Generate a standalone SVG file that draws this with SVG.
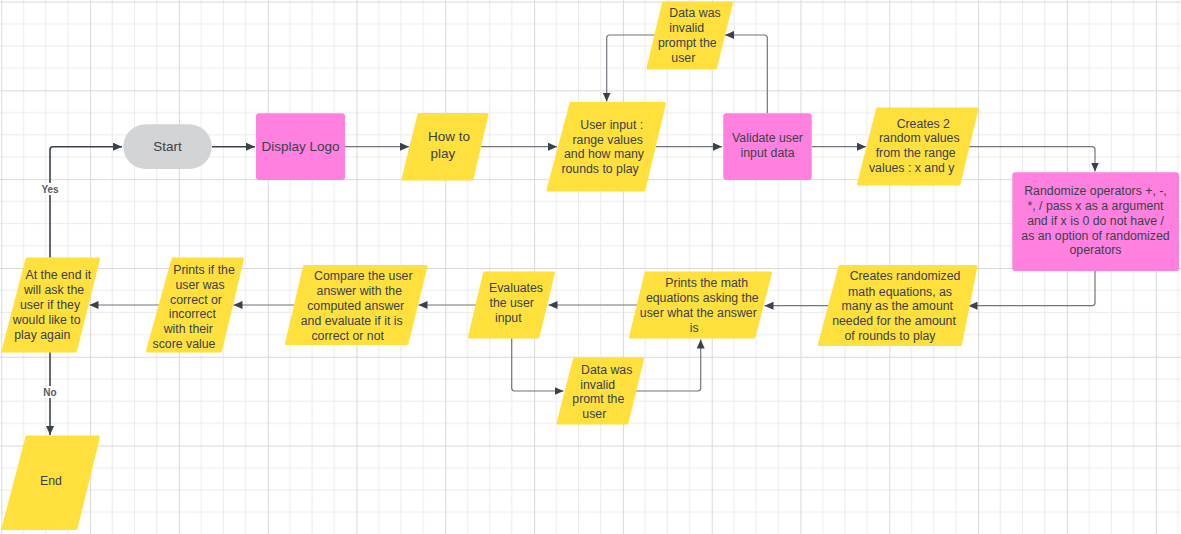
<svg xmlns="http://www.w3.org/2000/svg" width="1181" height="534" viewBox="0 0 1181 534">
<defs>
<pattern id="grid" x="1.3" y="1.6" width="88.8" height="88.8" patternUnits="userSpaceOnUse">
<path d="M22.2,0V88.8M44.4,0V88.8M66.6,0V88.8M0,22.2H88.8M0,44.4H88.8M0,66.6H88.8" stroke="#ebebeb" stroke-width="1" fill="none"/>
<path d="M0.5,0V88.8M0,0.5H88.8" stroke="#d9d9d9" stroke-width="1" fill="none"/>
</pattern>
<marker id="ah" markerWidth="10" markerHeight="8" refX="9" refY="4" orient="auto" markerUnits="userSpaceOnUse">
<path d="M0,0L9,4L0,8Z" fill="#3a414a"/>
</marker>
<style>
.para{fill:#ffe03d;stroke:#ffe03d;stroke-width:3;stroke-linejoin:round}
.pink{fill:#ff80df}
.t{font-family:"Liberation Sans",Arial,sans-serif;font-size:12.3px;fill:#3a414a;text-anchor:middle}
.tl{font-family:"Liberation Sans",Arial,sans-serif;font-size:13.5px;fill:#3a414a;text-anchor:middle}
.c{fill:none;stroke:#70757d;stroke-width:1.2}
.cd{fill:none;stroke:#3a414a;stroke-width:1.6}
.lbl{font-family:"Liberation Sans",Arial,sans-serif;font-size:10px;font-weight:bold;fill:#555b63;text-anchor:middle}
</style>
</defs>
<rect width="1181" height="534" fill="#ffffff"/>
<rect width="1181" height="534" fill="url(#grid)"/>

<g id="connectors">
<path class="cd" d="M50,257.7V149.7Q50,146.7 53,146.7H122" marker-end="url(#ah)"/>
<rect x="40" y="183" width="20" height="12" fill="#ffffff"/>
<text class="lbl" x="50" y="192.5">Yes</text>
<path class="cd" d="M212,146.7H255" marker-end="url(#ah)"/>
<path class="c" d="M345,146.7H409" marker-end="url(#ah)"/>
<path class="c" d="M480.5,146.7H557" marker-end="url(#ah)"/>
<path class="c" d="M656,146.7H722" marker-end="url(#ah)"/>
<path class="c" d="M767.3,113V38Q767.3,35 764.3,35H725" marker-end="url(#ah)"/>
<path class="c" d="M654.7,35H609.7Q606.7,35 606.7,38V101.5" marker-end="url(#ah)"/>
<path class="c" d="M812,146.7H866" marker-end="url(#ah)"/>
<path class="c" d="M969,146.7H1092Q1095,146.7 1095,149.7V171.5" marker-end="url(#ah)"/>
<path class="c" d="M1095,271V302.7Q1095,305.7 1092,305.7H968.5" marker-end="url(#ah)"/>
<path class="c" d="M829,305.7H764.5" marker-end="url(#ah)"/>
<path class="c" d="M637,305H548.5" marker-end="url(#ah)"/>
<path class="c" d="M511.7,338.3V388Q511.7,391 514.7,391H563.5" marker-end="url(#ah)"/>
<path class="c" d="M636,391H697.7Q700.7,391 700.7,388V339.5" marker-end="url(#ah)"/>
<path class="c" d="M476,305H418.5" marker-end="url(#ah)"/>
<path class="c" d="M294,305H233.5" marker-end="url(#ah)"/>
<path class="c" d="M159,305H89.5" marker-end="url(#ah)"/>
<path class="cd" d="M50,352.3V435" marker-end="url(#ah)"/>
<rect x="42" y="386" width="16" height="12" fill="#ffffff"/>
<text class="lbl" x="50" y="396">No</text>
</g>

<g id="start">
<rect x="123.3" y="124.3" width="88.4" height="44.7" rx="22.3" fill="#d3d4d6"/>
<text class="tl" x="167.5" y="150.5">Start</text>
</g>

<g id="display-logo">
<rect class="pink" x="256" y="113.3" width="89" height="66.7" rx="3"/>
<text class="tl" x="300.5" y="151">Display Logo</text>
</g>

<g id="how-to-play">
<polygon class="para" points="419,114.5 487,114.5 472,179 403,179"/>
<text class="tl" x="449" y="141">How to</text>
<text class="tl" x="443" y="158">play</text>
</g>

<g id="user-input">
<polygon class="para" points="571,103.5 664.5,103.5 644,190 548,190"/>
<text class="t" x="611.7" y="128.5">User input :</text>
<text class="t" x="607.7" y="143.5">range values</text>
<text class="t" x="604" y="158.2">and how many</text>
<text class="t" x="600" y="173.2">rounds to play</text>
</g>

<g id="validate">
<rect class="pink" x="723.3" y="113.3" width="88.4" height="66.7" rx="3"/>
<text class="t" x="767.5" y="142.2">Validate user</text>
<text class="t" x="767.5" y="157.2">input data</text>
</g>

<g id="invalid-top">
<polygon class="para" points="663.5,3 731.5,3 715.5,68 648,68"/>
<text class="t" x="695" y="17.2">Data was</text>
<text class="t" x="686.7" y="31.8">invalid</text>
<text class="t" x="687.3" y="46.8">prompt the</text>
<text class="t" x="683.3" y="61.8">user</text>
</g>

<g id="creates-values">
<polygon class="para" points="877.5,109 977,109 959,184 858.5,184"/>
<text class="t" x="923.3" y="127.8">Creates 2</text>
<text class="t" x="919.3" y="142.2">random values</text>
<text class="t" x="915.7" y="157.2">from the range</text>
<text class="t" x="911.7" y="172.2">values : x and y</text>
</g>

<g id="randomize">
<rect class="pink" x="1012.3" y="172.3" width="166.7" height="98.7" rx="3"/>
<text class="t" x="1095.5" y="195.2">Randomize operators +, -,</text>
<text class="t" x="1095.5" y="209.5">*, / pass x as a argument</text>
<text class="t" x="1095.5" y="224.5">and if x is 0 do not have /</text>
<text class="t" x="1095.5" y="239.5">as an option of randomized</text>
<text class="t" x="1095.5" y="253.8">operators</text>
</g>

<g id="creates-equations">
<polygon class="para" points="840,266.5 976,266.5 960.5,344.5 819.5,344.5"/>
<text class="t" x="905" y="280.2">Creates randomized</text>
<text class="t" x="900" y="296.2">math equations, as</text>
<text class="t" x="897.3" y="310.2">many as the amount</text>
<text class="t" x="894" y="325.2">needed for the amount</text>
<text class="t" x="890" y="340.2">of rounds to play</text>
</g>

<g id="prints-math">
<polygon class="para" points="646,273 770.5,273 754,337 630.5,337"/>
<text class="t" x="706.7" y="286.8">Prints the math</text>
<text class="t" x="702.3" y="301.8">equations asking the</text>
<text class="t" x="698.3" y="316.5">user what the answer</text>
<text class="t" x="694.3" y="331.8">is</text>
</g>

<g id="evaluates">
<polygon class="para" points="484.5,273 553.5,273 538,337 469.5,337"/>
<text class="t" x="516" y="292.2">Evaluates</text>
<text class="t" x="511.7" y="307.2">the user</text>
<text class="t" x="508.3" y="322.2">input</text>
</g>

<g id="invalid-bottom">
<polygon class="para" points="574.5,359 642.5,359 627,423 558,423"/>
<text class="t" x="606.7" y="373.5">Data was</text>
<text class="t" x="597.7" y="388.5">invalid</text>
<text class="t" x="598.3" y="402.8">promt the</text>
<text class="t" x="594.3" y="417.8">user</text>
</g>

<g id="compare">
<polygon class="para" points="304.5,266.5 426,266.5 407,343.5 286.5,343.5"/>
<text class="t" x="363.3" y="280.2">Compare the user</text>
<text class="t" x="359.3" y="295.2">answer with the</text>
<text class="t" x="355.7" y="310.2">computed answer</text>
<text class="t" x="351.7" y="325.2">and evaluate if it is</text>
<text class="t" x="347.7" y="339.8">correct or not</text>
</g>

<g id="prints-result">
<polygon class="para" points="173,259 242.5,259 220.5,351 147.5,351"/>
<text class="t" x="204" y="273.8">Prints if the</text>
<text class="t" x="200" y="288.5">user was</text>
<text class="t" x="196" y="303.5">correct or</text>
<text class="t" x="192.3" y="318.2">incorrect</text>
<text class="t" x="188.3" y="332.8">with their</text>
<text class="t" x="184" y="347.8">score value</text>
</g>

<g id="play-again">
<polygon class="para" points="27,259 98.5,259 75.5,351 3,351"/>
<text class="t" x="58.3" y="278.8">At the end it</text>
<text class="t" x="54" y="293.8">will ask the</text>
<text class="t" x="50" y="308.8">user if they</text>
<text class="t" x="46.7" y="323.8">would like to</text>
<text class="t" x="42.3" y="338.5">play again</text>
</g>

<g id="end">
<polygon class="para" points="27,437 98.5,437 76,528.5 3,528.5"/>
<text class="t" x="51" y="484.5">End</text>
</g>
</svg>
